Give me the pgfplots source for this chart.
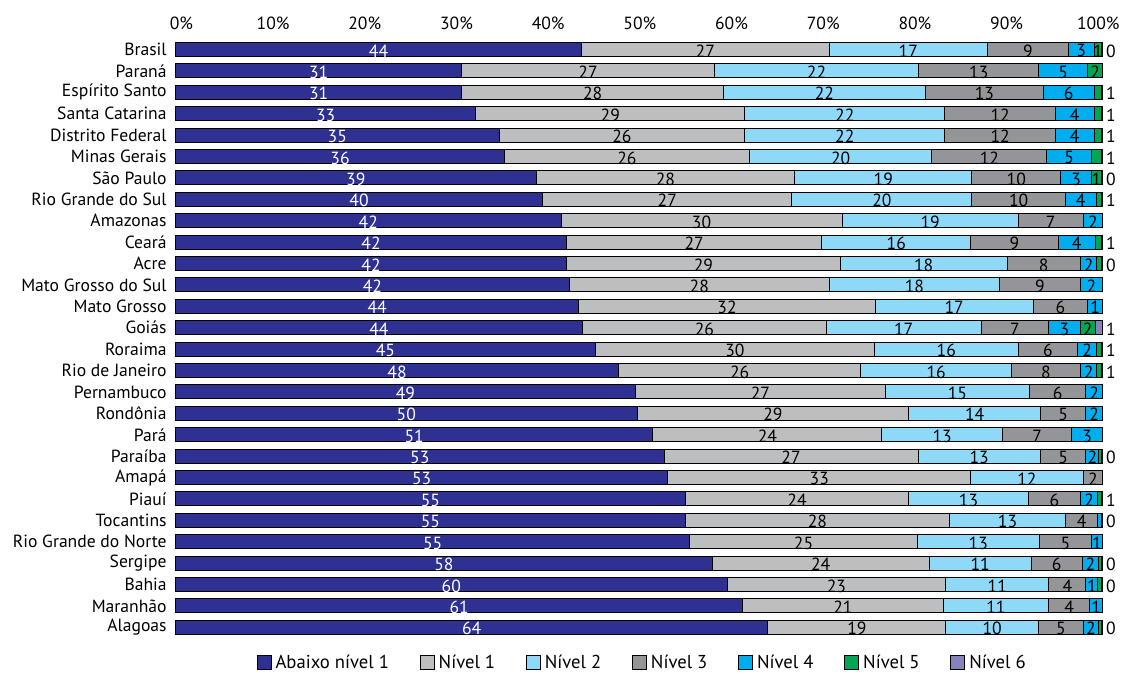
\documentclass[border=0pt]{standalone}
\usepackage{pgfplots}
\usepackage{pgfplotstable}
\pgfplotsset{compat=1.18}
\usepackage{fontspec}
\setmainfont{PT Sans}
\definecolor{c0}{HTML}{2E3192}
\definecolor{c1}{HTML}{BCBEC0}
\definecolor{c2}{HTML}{8ED8F8}
\definecolor{c3}{HTML}{939598}
\definecolor{c4}{HTML}{00AEEF}
\definecolor{c5}{HTML}{00A651}
\definecolor{c6}{HTML}{8781BD}
\newcommand\lblfont{\fontsize{13.2}{14}\selectfont}
\newcommand\legfont{\fontsize{14}{15}\selectfont}

\pgfplotstableread{
y name a0 a1 a2 a3 a4 a5 a6 l0 l1 l2 l3 l4 l5 l6 lo
0 Alagoas 63.9 19.2 10.0 4.8 1.7 0.3 0.1 64 19 10 5 2 {} {} 0
1 Maranhão 61.2 21.6 11.4 4.4 1.4 0 0 61 21 11 4 1 {} {} {}
2 Bahia 59.5 23.6 11.1 4.0 1.3 0.4 0.1 60 23 11 4 1 {} {} 0
3 Sergipe 57.9 23.4 11.0 5.5 1.8 0.3 0.1 58 24 11 6 2 {} {} 0
4 {Rio Grande do Norte} 55.5 24.5 13.2 5.6 1.2 0 0 55 25 13 5 1 {} {} {}
5 Tocantins 55.0 28.5 12.5 3.5 0.4 0.1 0 55 28 13 4 {} {} {} 0
6 Piauí 55.0 24.1 12.9 5.6 1.9 0.4 0.1 55 24 13 6 2 {} {} 1
7 Amapá 53.1 32.7 12.1 2.1 0 0 0 53 33 12 2 {} {} {} {}
8 Paraíba 52.7 27.4 13.2 4.9 1.4 0.3 0.1 53 27 13 5 2 {} {} 0
9 Pará 51.5 24.7 13.0 7.5 3.3 0 0 51 24 13 7 3 {} {} {}
10 Rondônia 49.8 29.3 14.2 4.9 1.8 0 0 50 29 14 5 2 {} {} {}
11 Pernambuco 49.6 27.0 15.5 6.1 1.8 0 0 49 27 15 6 2 {} {} {}
12 {Rio de Janeiro} 47.8 26.1 16.3 7.4 1.8 0.5 0.1 48 26 16 8 2 {} {} 1
13 Roraima 45.3 30.1 15.5 6.4 2.1 0.5 0.1 45 30 16 6 2 {} {} 1
14 Goiás 43.9 26.3 16.7 7.3 3.4 1.6 0.8 44 26 17 7 3 2 {} 1
15 {Mato Grosso} 43.5 32.0 17.0 5.9 1.6 0 0 44 32 17 6 1 {} {} {}
16 {Mato Grosso do Sul} 42.5 28.0 18.4 8.7 2.4 0 0 42 28 18 9 2 {} {} {}
17 Acre 42.2 29.5 18.0 7.9 1.8 0.5 0.1 42 29 18 8 2 {} {} 0
18 Ceará 42.2 27.5 16.1 9.4 4.0 0.7 0.1 42 27 16 9 4 {} {} 1
19 Amazonas 41.6 30.3 19.0 7.0 2.1 0 0 42 30 19 7 2 {} {} {}
20 {Rio Grande do Sul} 39.6 26.9 19.4 10.1 3.3 0.6 0.1 40 27 20 10 4 {} {} 1
21 {São Paulo} 38.9 27.9 19.1 9.6 3.3 1.1 0.1 39 28 19 10 3 1 {} 0
22 {Minas Gerais} 35.5 26.4 19.7 12.4 4.8 1.1 0.1 36 26 20 12 5 {} {} 1
23 {Distrito Federal} 34.9 26.5 21.6 11.9 4.2 0.8 0.1 35 26 22 12 4 {} {} 1
24 {Santa Catarina} 32.4 29.0 21.6 11.9 4.2 0.8 0.1 33 29 22 12 4 {} {} 1
25 {Espírito Santo} 30.9 28.2 21.8 12.7 5.5 0.8 0.1 31 28 22 13 6 {} {} 1
26 Paraná 30.9 27.2 22.1 12.9 5.3 1.6 0 31 27 22 13 5 2 {} {}
27 Brasil 43.8 26.7 17.1 8.7 2.8 0.8 0.1 44 27 17 9 3 1 {} 0
}\data

\pgfplotsset{common/.style={
  at={(0,0)}, anchor=north west, scale only axis,
  width=695.25pt, height=449.4pt,
  xmin=0, xmax=100, ymin=-0.5, ymax=27.5, clip=false}}

\begin{document}
\begin{tikzpicture}
\begin{axis}[common, xbar stacked, bar width=10.5pt,
  axis x line=top, axis y line=left, axis line style={draw=none}, tick style={draw=none},
  xtick={0.64,10.53,20.42,30.31,40.2,50.09,59.98,69.87,79.76,89.65,99.54},
  xticklabels={0\%,10\%,20\%,30\%,40\%,50\%,60\%,70\%,80\%,90\%,100\%},
  ytick={0,...,27}, yticklabels from table={\data}{name},
  ticklabel style={font=\lblfont},
  yticklabel style={xshift=-1pt},
  xticklabel style={yshift=1pt},
  legend columns=-1,
  legend style={at={(0.5,0)}, anchor=center, yshift=-18.8pt, xshift=2.6pt,
    draw=none, fill=none, font=\legfont,
    /tikz/every odd column/.append style={column sep=1pt},
    /tikz/every even column/.append style={column sep=21pt}},
  legend image code/.code={\draw[#1,draw=black,line width=0.75pt] (0pt,-5pt) rectangle (10.5pt,5.5pt);},
]
\addplot[fill=c0, draw=black, line width=0.75pt] table[x=a0,y=y]{\data};
\addplot[fill=c1, draw=black, line width=0.75pt] table[x=a1,y=y]{\data};
\addplot[fill=c2, draw=black, line width=0.75pt] table[x=a2,y=y]{\data};
\addplot[fill=c3, draw=black, line width=0.75pt] table[x=a3,y=y]{\data};
\addplot[fill=c4, draw=black, line width=0.75pt] table[x=a4,y=y]{\data};
\addplot[fill=c5, draw=black, line width=0.75pt] table[x=a5,y=y]{\data};
\addplot[fill=c6, draw=black, line width=0.75pt] table[x=a6,y=y]{\data};
\legend{Abaixo nível 1, Nível 1, Nível 2, Nível 3, Nível 4, Nível 5, Nível 6}
\end{axis}
\begin{axis}[common, hide axis,
  every node near coord/.append style={anchor=center, font=\lblfont, yshift=-1pt, inner sep=0pt}]
\addplot[draw=none, nodes near coords, point meta=explicit symbolic,
  nodes near coords style={text=white}]
  table[x expr=\thisrow{a0}/2, y=y, meta=l0]{\data};
\addplot[draw=none, nodes near coords, point meta=explicit symbolic]
  table[x expr=\thisrow{a0}+\thisrow{a1}/2, y=y, meta=l1]{\data};
\addplot[draw=none, nodes near coords, point meta=explicit symbolic]
  table[x expr=\thisrow{a0}+\thisrow{a1}+\thisrow{a2}/2, y=y, meta=l2]{\data};
\addplot[draw=none, nodes near coords, point meta=explicit symbolic]
  table[x expr=\thisrow{a0}+\thisrow{a1}+\thisrow{a2}+\thisrow{a3}/2, y=y, meta=l3]{\data};
\addplot[draw=none, nodes near coords, point meta=explicit symbolic]
  table[x expr=\thisrow{a0}+\thisrow{a1}+\thisrow{a2}+\thisrow{a3}+\thisrow{a4}/2, y=y, meta=l4]{\data};
\addplot[draw=none, nodes near coords, point meta=explicit symbolic]
  table[x expr=\thisrow{a0}+\thisrow{a1}+\thisrow{a2}+\thisrow{a3}+\thisrow{a4}+\thisrow{a5}/2, y=y, meta=l5]{\data};
\addplot[draw=none, nodes near coords, point meta=explicit symbolic,
  nodes near coords style={anchor=west, xshift=2.5pt}]
  table[x expr=100, y=y, meta=lo]{\data};
\end{axis}
\pgfresetboundingbox
\path[use as bounding box] (-131.6pt,29.1pt) rectangle (709.1pt,-477.9pt);
\end{tikzpicture}
\end{document}
